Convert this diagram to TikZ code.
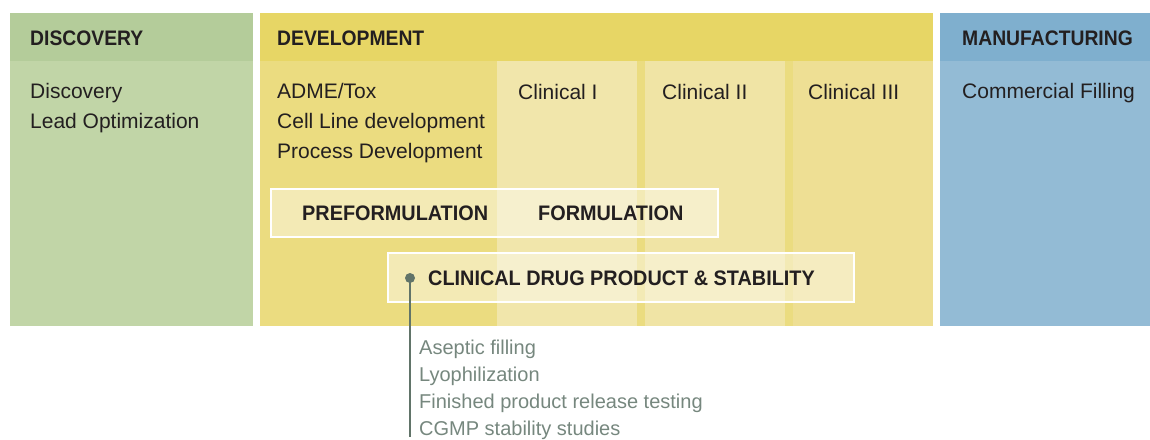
\documentclass[tikz,border=0pt]{standalone}
\usepackage{fontspec}
\setmainfont{Liberation Sans}
\newfontfamily\hdfont{Liberation Sans}[FakeStretch=0.92]
\newfontfamily\hdwidefont{Liberation Sans}[FakeStretch=0.945]
\definecolor{discH}{HTML}{B4CC9A}
\definecolor{discB}{HTML}{C1D5A7}
\definecolor{devH}{HTML}{E7D665}
\definecolor{devB}{HTML}{EBDC80}
\definecolor{clinA}{HTML}{F1E6AB}
\definecolor{clinB}{HTML}{F0E4A5}
\definecolor{clinC}{HTML}{EEDF94}
\definecolor{mfgH}{HTML}{7FAFCE}
\definecolor{mfgB}{HTML}{93BBD5}
\definecolor{txt}{HTML}{231F20}
\definecolor{graytxt}{HTML}{76877E}
\definecolor{linecol}{HTML}{617469}
\tikzset{
  panel/.style={rectangle, inner sep=0pt, outer sep=0pt, draw=none, anchor=north west},
  hdtext/.style={anchor=base west, inner sep=0pt, text=txt, font=\hdfont\bfseries\fontsize{21}{26}\selectfont},
  bodytext/.style={anchor=base west, inner sep=0pt, text=txt, align=left, font=\fontsize{21}{30}\selectfont},
  phasebox/.style={panel, fill=white, fill opacity=0.42, draw=white, line width=1.5pt},
  subtext/.style={anchor=base west, inner sep=0pt, text=graytxt, align=left, font=\fontsize{20}{26.7}\selectfont},
}
\begin{document}
\begin{tikzpicture}[x=1pt,y=-1pt]
\useasboundingbox (0,0) rectangle (1150,439);
% Discovery
\node[panel, fill=discH, minimum width=243pt, minimum height=48pt] (discH) at (10,13) {};
\node[panel, fill=discB, minimum width=243pt, minimum height=265pt] (discB) at (10,61) {};
% Development
\node[panel, fill=devH, minimum width=673pt, minimum height=48pt] (devH) at (260,13) {};
\node[panel, fill=devB, minimum width=673pt, minimum height=265pt] (devB) at (260,61) {};
\node[panel, fill=clinA, minimum width=140pt, minimum height=265pt] (clinA) at (497,61) {};
\node[panel, fill=clinB, minimum width=140pt, minimum height=265pt] (clinB) at (645,61) {};
\node[panel, fill=clinC, minimum width=140pt, minimum height=265pt] (clinC) at (793,61) {};
% Manufacturing
\node[panel, fill=mfgH, minimum width=210pt, minimum height=48pt] (mfgH) at (940,13) {};
\node[panel, fill=mfgB, minimum width=210pt, minimum height=265pt] (mfgB) at (940,61) {};
% headers
\node[hdtext] (tDisc) at (30,45) {DISCOVERY};
\node[hdtext] (tDev) at (277,45) {DEVELOPMENT};
\node[hdtext] (tMfg) at (962,45) {MANUFACTURING};
% body texts (base anchor = last line)
\node[bodytext] (tDiscB) at (30,128) {Discovery\\Lead Optimization};
\node[bodytext] (tAdme) at (277,158) {ADME/Tox\\Cell Line development\\Process Development};
\node[bodytext] (tC1) at (518,99) {Clinical I};
\node[bodytext] (tC2) at (662,99) {Clinical II};
\node[bodytext] (tC3) at (808,99) {Clinical III};
\node[bodytext] (tMfgB) at (962,98) {Commercial Filling};
% phase boxes
\node[phasebox, minimum width=447pt, minimum height=48pt] (pre) at (271,189) {};
\node[hdtext, font=\hdwidefont\bfseries\fontsize{21}{26}\selectfont] (tPre) at (302,220) {PREFORMULATION};
\node[hdtext, font=\hdwidefont\bfseries\fontsize{21}{26}\selectfont] (tForm) at (538,220) {FORMULATION};
\node[phasebox, minimum width=466pt, minimum height=49pt] (cdp) at (388,253) {};
\node[hdtext, font=\hdwidefont\bfseries\fontsize{21}{26}\selectfont] (tCdp) at (428,285) {CLINICAL DRUG PRODUCT \& STABILITY};
% connector
\node[circle, fill=linecol, inner sep=0pt, minimum size=10pt] (dot) at (410,278) {};
\coordinate (lineEnd) at (410,437);
\draw[linecol, line width=2pt] (dot.center) -- (lineEnd);
\node[subtext] (tSub) at (419,435) {Aseptic filling\\Lyophilization\\Finished product release testing\\CGMP stability studies};
\end{tikzpicture}
\end{document}
